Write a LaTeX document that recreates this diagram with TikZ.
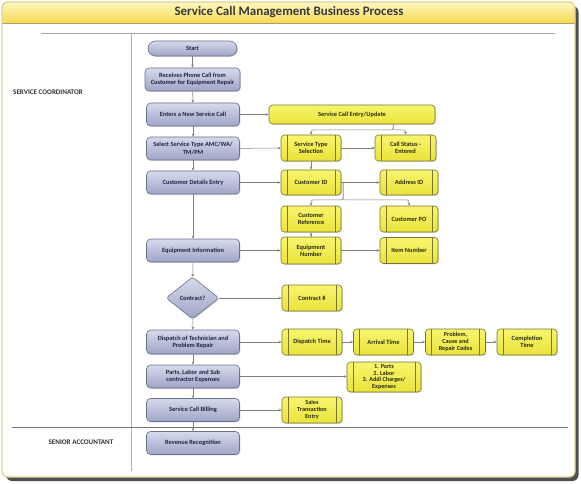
\documentclass[tikz,border=0pt]{standalone}
\usepackage{fontspec}
\setmainfont{Carlito}
\usetikzlibrary{arrows.meta,shadows,shapes.geometric,calc}
\definecolor{btop}{HTML}{D6DAEB}
\definecolor{bbot}{HTML}{9EA5C6}
\definecolor{bborder}{HTML}{6A7190}
\definecolor{btext}{HTML}{1E2440}
\definecolor{ytop}{HTML}{F8F56E}
\definecolor{ybot}{HTML}{E9E33A}
\definecolor{yborder}{HTML}{7A7630}
\definecolor{ytext}{HTML}{2A2A12}
\definecolor{cgray}{HTML}{7F7F7F}
\definecolor{framebd}{HTML}{DED393}
\definecolor{titletop}{HTML}{FFF7C2}
\definecolor{titlebot}{HTML}{F6D94E}
\definecolor{shadowgray}{HTML}{505050}
\definecolor{lanegray}{HTML}{A8A8A8}
\begin{document}
\begin{tikzpicture}[x=1bp,y=-1bp,
  boxfont/.style={font=\bfseries\fontsize{6.4}{7.4}\selectfont},
  bluebox/.style={rectangle, rounded corners=4bp, draw=bborder, line width=0.6bp,
    top color=btop, bottom color=bbot, minimum width=93bp, minimum height=23bp,
    inner sep=0.5bp, align=center, boxfont, text=btext,
    drop shadow={shadow xshift=0.9bp,shadow yshift=-0.9bp,opacity=0.35}},
  startbox/.style={bluebox, rounded corners=7.5bp, minimum width=89bp, minimum height=15bp},
  decbox/.style={diamond, rounded corners=3bp, draw=bborder, line width=0.6bp,
    top color=btop, bottom color=bbot, minimum width=53bp, minimum height=42bp,
    inner sep=0bp, align=center, boxfont, text=btext,
    drop shadow={shadow xshift=0.9bp,shadow yshift=-0.9bp,opacity=0.35}},
  yplain/.style={rectangle, rounded corners=3.5bp, draw=yborder, line width=0.6bp,
    top color=ytop, bottom color=ybot, minimum width=60bp, minimum height=25bp,
    inner sep=0.5bp, align=center, boxfont, text=ytext,
    drop shadow={shadow xshift=0.9bp,shadow yshift=-0.9bp,opacity=0.3}},
  ybox/.style={yplain,
    path picture={\draw[yborder,line width=0.5bp]
      ([xshift=6bp]path picture bounding box.north west) -- ([xshift=6bp]path picture bounding box.south west)
      ([xshift=-6bp]path picture bounding box.north east) -- ([xshift=-6bp]path picture bounding box.south east);}},
  conn/.style={draw=cgray, line width=0.5bp, -{Stealth[length=3bp,width=2.6bp]}},
  lanelabel/.style={font=\bfseries\fontsize{7.1}{8}\selectfont, text=black!80, inner sep=0bp}
]
\useasboundingbox (0,0) rectangle (581,484);
% frame
\fill[shadowgray, rounded corners=6bp] (6,6) rectangle (578.5,481);
\fill[white, rounded corners=6bp] (2,2) rectangle (575,477);
\begin{scope}
  \clip[rounded corners=6bp] (2,2) rectangle (575,477);
  \shade[top color=titletop, bottom color=titlebot] (2,2) rectangle (575,23.5);
\end{scope}
\draw[framebd!75!black, line width=0.5bp] (2,23.5) -- (575,23.5);
\draw[framebd, rounded corners=6bp, line width=1.3bp] (2,2) rectangle (575,477);
\node[font=\bfseries\fontsize{13}{15}\selectfont, text=black!78] (title) at (289,12.5) {Service Call Management Business Process};
% lanes
\draw[lanegray, line width=1.3bp] (41,33.5) -- (555,33.5);
\draw[black!30, line width=0.6bp] (131,34) -- (131,471);
\draw[black!55, line width=0.6bp] (12,427) -- (568,427);
\node[lanelabel, anchor=west] (lane1) at (13,92) {SERVICE COORDINATOR};
\node[lanelabel] (lane2) at (81,442) {SENIOR ACCOUNTANT};
% main column
\node[startbox] (start) at (192.5,48.5) {Start};
\node[bluebox, minimum width=95bp] (recv) at (192.5,79.5) {Receives Phone Call from\\Customer for Equipment Repair};
\node[bluebox] (enter) at (193,114.5) {Enters a New Service Call};
\node[bluebox] (select) at (193,148.5) {Select Service Type AMC/WA/\\TM/PM};
\node[bluebox] (cust) at (193,182.5) {Customer Details Entry};
\node[bluebox] (equip) at (193,250.5) {Equipment Information};
\node[decbox] (contract) at (192.5,298) {Contract?};
\node[bluebox, minimum height=24bp] (dispatch) at (193,342) {Dispatch of Technician and\\Problem Repair};
\node[bluebox] (parts) at (193,376.5) {Parts, Labor and Sub\\contractor Expenses};
\node[bluebox] (billing) at (193,410) {Service Call Billing};
\node[bluebox] (revenue) at (193,443) {Revenue Recognition};
% yellow boxes
\node[yplain, minimum width=166bp, minimum height=19bp] (sceu) at (352,114.5) {Service Call Entry/Update};
\node[ybox, minimum height=26bp] (sts) at (311,148) {Service Type\\Selection};
\node[ybox, minimum width=61bp, minimum height=26bp] (cstat) at (405.5,148) {Call Status -\\Entered};
\node[ybox] (cid) at (311,182.5) {Customer ID};
\node[ybox, minimum width=58bp] (addr) at (409,182.5) {Address ID};
\node[ybox, minimum height=26bp] (cref) at (311,219) {Customer\\Reference};
\node[ybox, minimum width=58bp, minimum height=26bp] (cpo) at (409,219) {Customer PO};
\node[ybox, minimum height=27bp] (enum) at (311,250.5) {Equipment\\Number};
\node[ybox, minimum width=58bp, minimum height=26bp] (item) at (409,250.5) {Item Number};
\node[ybox, minimum height=26bp] (cnum) at (312,298) {Contract \#};
\node[ybox, minimum height=26bp] (dtime) at (312,342) {Dispatch Time};
\node[ybox, minimum height=26bp] (atime) at (383.5,342) {Arrival Time};
\node[ybox, minimum height=26bp, font=\bfseries\fontsize{6.2}{6.9}\selectfont] (prob) at (455.5,342) {Problem,\\Cause and\\Repair Codes};
\node[ybox, minimum height=26bp] (comp) at (527,342) {Completion\\Time};
\node[ybox, minimum width=74bp, minimum height=30bp, inner sep=0bp, font=\bfseries\fontsize{6.2}{6.9}\selectfont] (plist) at (384,377) {1. Parts\\2. Labor\\3. Addl Charges/\\Expenses};
\node[ybox, minimum height=26bp, font=\bfseries\fontsize{6.2}{7}\selectfont] (sales) at (312,410) {Sales\\Transaction\\Entry};
% junctions
\coordinate (j1) at (393,130);
\coordinate (j2) at (343,200);
% vertical flow
\draw[conn] (start) -- (recv);
\draw[conn] (recv) -- (enter);
\draw[conn] (enter) -- (select);
\draw[conn] (select) -- (cust);
\draw[conn] (cust) -- (equip);
\draw[conn] (equip) -- (contract);
\draw[conn] (contract) -- (dispatch);
\draw[conn] (dispatch) -- (parts);
\draw[conn] (parts) -- (billing);
\draw[conn] (billing) -- (revenue);
% to the right
\draw[conn] (enter) -- (sceu);
\draw[conn] (select) -- (sts);
\draw[conn] (cust) -- (cid);
\draw[conn] (equip) -- (enum);
\draw[conn] (contract) -- (contract -| cnum.west);
\draw[conn] (dispatch) -- (dtime);
\draw[conn] (parts.east) -- (parts.east -| plist.west);
\draw[conn] (billing) -- (sales);
\draw[conn] (sts) -- (cstat);
\draw[conn] (sts) -- (cid);
\draw[conn] (cid) -- (addr);
\draw[conn] (enum) -- (cref);
\draw[conn] (enum) -- (item);
\draw[conn] (dtime) -- (atime);
\draw[conn] (atime) -- (prob);
\draw[conn] (prob) -- (comp);
\draw[conn, rounded corners=2bp] (sceu.south -| j1) -- (j1) -| (sts.north);
\draw[conn, rounded corners=2bp] (sceu.south -| j1) -- (j1) -| (cstat.north);
\draw[conn, rounded corners=2bp] (cid.east -| j2) -- (j2) -| (cref.north);
\draw[conn, rounded corners=2bp] (cid.east -| j2) -- (j2) -| (cpo.north);
\end{tikzpicture}
\end{document}
